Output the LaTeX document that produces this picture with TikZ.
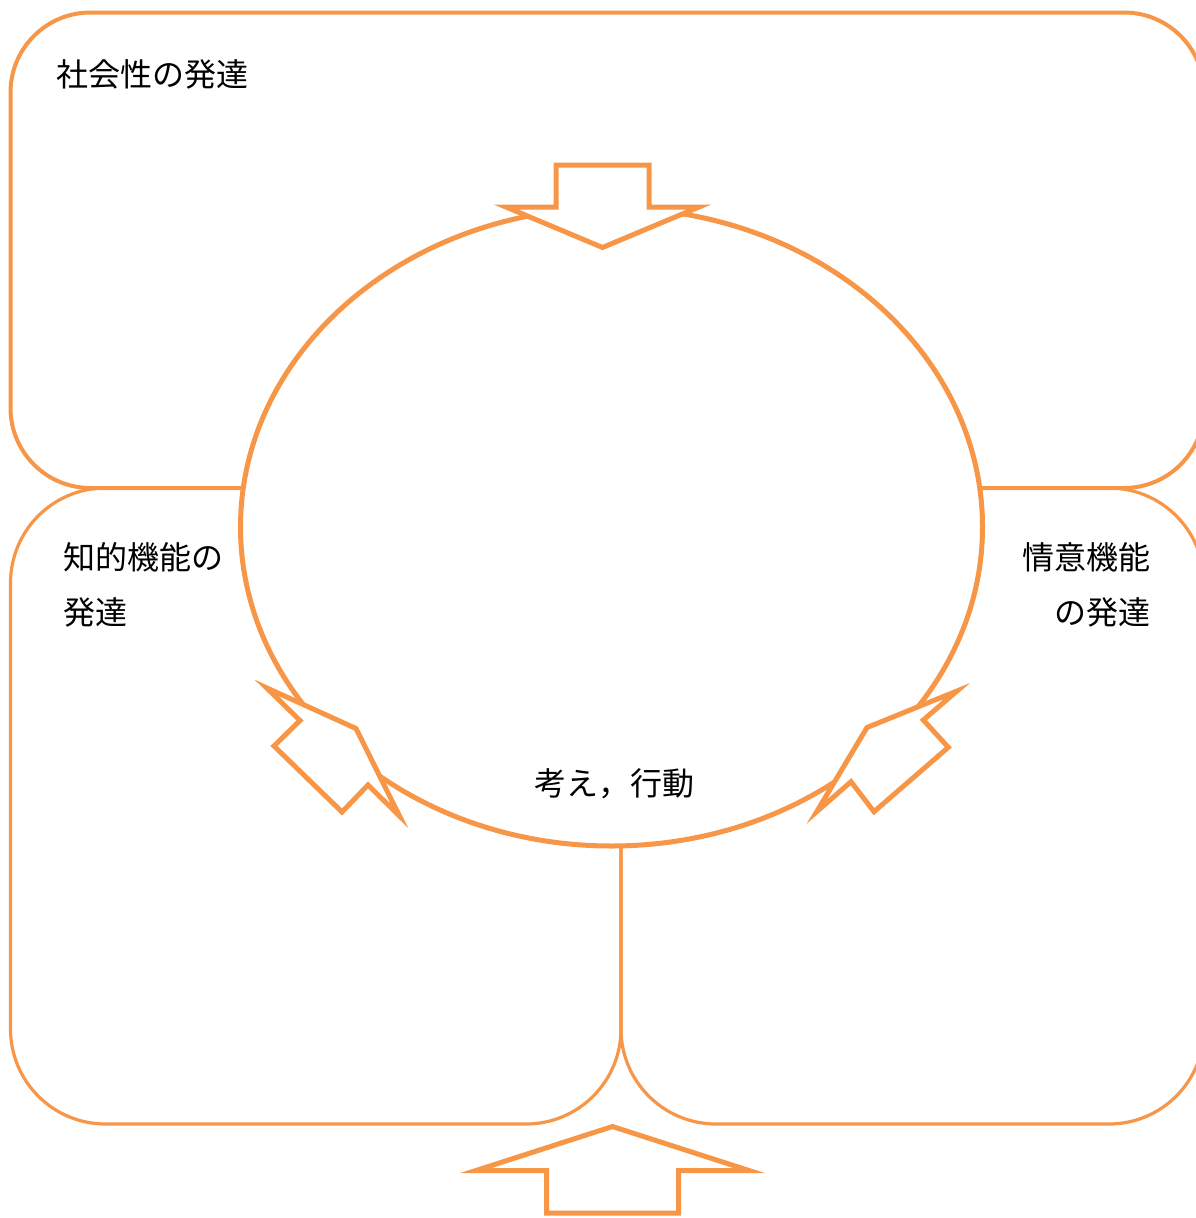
\documentclass[tikz,border=0pt]{standalone}
\usepackage{fontspec}
\usetikzlibrary{shapes.geometric}
\newfontfamily\jp{Noto Sans CJK JP}
\definecolor{org}{HTML}{F79646}
\begin{document}
\begin{tikzpicture}[x=1pt,y=-1pt,
  frame/.style={draw=org, line width=4pt, rounded corners=80pt},
  quad/.style={draw=org, line width=3.2pt, rounded corners=95pt},
  ring/.style={ellipse, draw=org, fill=white, line width=5pt, inner sep=0pt},
  blockarrow/.style={draw=org, fill=white, line width=5pt, line join=miter, miter limit=25},
  lbl/.style={font=\jp\fontsize{32}{55}\selectfont, inner sep=0pt, text=black}]
\useasboundingbox (0,0) rectangle (1196,1218);
\clip (0,0) rectangle (1196,1218);
% three areas
\draw[frame] (10.5,12.5) rectangle (1204,488);
\draw[quad] (10.5,488) rectangle (621,1124);
\draw[quad] (621,488) rectangle (1204,1124);
% central ellipse
\node[ring, minimum width=742pt, minimum height=638pt] (core) at (611.5,527) {};
% block arrows
\draw[blockarrow] (556,165) -- (649,165) -- (649,207) -- (699,207) -- (602.5,247.5)
  -- (506,207) -- (556,207) -- cycle;
\draw[blockarrow] (546.5,1213) -- (678.5,1213) -- (678.5,1170.5) -- (749,1170.5)
  -- (612.5,1126.5) -- (476,1170.5) -- (546.5,1170.5) -- cycle;
\draw[blockarrow] (356,728.5) -- (399.5,816) -- (368,785) -- (342,812) -- (274,746)
  -- (300,720.5) -- (266.5,687.8) -- cycle;
\draw[blockarrow] (867,727.5) -- (957,691) -- (923.3,720) -- (948.3,747.3) -- (874,811.7)
  -- (851,781.7) -- (816.7,811.7) -- cycle;
% labels
\node[lbl, anchor=west] (social) at (56,74.5) {社会性の発達};
\node[lbl, anchor=west, align=left] (intel) at (63,585) {知的機能の\\発達};
\node[lbl, anchor=east, align=right] (emot) at (1151,585) {情意機能\\の発達};
\node[lbl] (act) at (614.5,783.5) {考え，行動};
\end{tikzpicture}
\end{document}
